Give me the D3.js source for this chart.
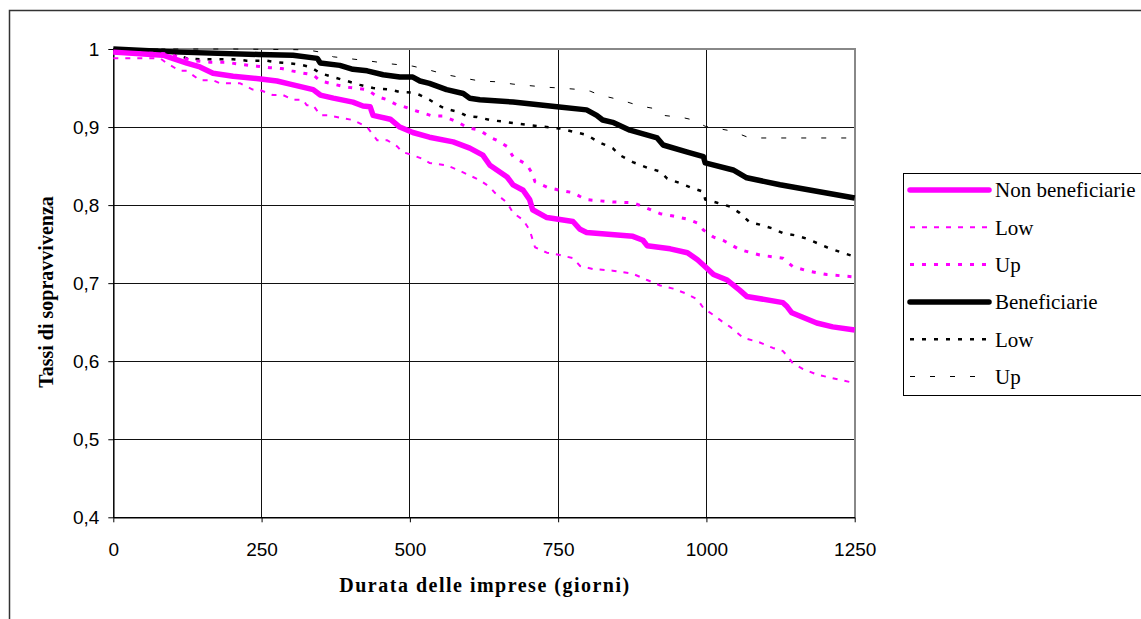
<!DOCTYPE html>
<html>
<head>
<meta charset="utf-8">
<script src="https://cdn.jsdelivr.net/npm/d3@7"></script>
<style>
  body { margin: 0; background: #fff; }
  svg { display: block; }
</style>
</head>
<body>
<svg id="chart" width="1141" height="619"></svg>
<script>
  // 刻度
  var xTicks = [0, 250, 500, 750, 1000, 1250];
  var yTicks = [0.4, 0.5, 0.6, 0.7, 0.8, 0.9, 1];

  // Non beneficiarie: [giorni, tasso]
  var nonBen = [[0,0.996],[84,0.992],[100,0.988],[124,0.982],[146,0.977],[168,0.969],[202,0.965],[245,0.962],[276,0.959],[298,0.955],[337,0.948],[349,0.941],[371,0.937],[404,0.932],[421,0.927],[433,0.926],[438,0.915],[467,0.910],[483,0.900],[505,0.893],[533,0.887],[573,0.881],[601,0.873],[623,0.864],[635,0.851],[664,0.836],[674,0.826],[691,0.819],[702,0.807],[707,0.794],[731,0.784],[775,0.779],[787,0.769],[798,0.765],[876,0.760],[893,0.755],[900,0.748],[939,0.744],[968,0.739],[985,0.730],[998,0.721],[1012,0.711],[1035,0.704],[1056,0.691],[1068,0.683],[1129,0.675],[1136,0.670],[1144,0.662],[1186,0.649],[1213,0.644],[1250,0.640]];
  var nonBenLow = [[0,0.988],[79,0.988],[90,0.982],[112,0.972],[124,0.972],[146,0.960],[168,0.960],[180,0.956],[214,0.956],[235,0.948],[245,0.948],[269,0.941],[286,0.941],[303,0.935],[320,0.935],[326,0.928],[337,0.928],[349,0.915],[361,0.915],[404,0.909],[428,0.900],[445,0.883],[462,0.883],[479,0.875],[487,0.868],[505,0.864],[522,0.859],[533,0.854],[562,0.851],[581,0.845],[598,0.839],[618,0.832],[635,0.823],[643,0.816],[664,0.803],[674,0.790],[691,0.781],[702,0.768],[711,0.746],[731,0.739],[753,0.736],[775,0.732],[787,0.722],[809,0.718],[842,0.716],[876,0.712],[900,0.704],[922,0.697],[944,0.693],[968,0.686],[985,0.679],[995,0.668],[1012,0.659],[1028,0.650],[1040,0.644],[1062,0.630],[1090,0.624],[1112,0.617],[1129,0.613],[1137,0.606],[1146,0.597],[1163,0.590],[1186,0.583],[1208,0.579],[1250,0.572]];
  var nonBenUp = [[0,0.996],[90,0.994],[110,0.990],[135,0.985],[163,0.983],[193,0.983],[207,0.981],[242,0.978],[264,0.976],[284,0.975],[301,0.972],[320,0.969],[337,0.967],[349,0.959],[371,0.955],[394,0.951],[428,0.948],[445,0.939],[462,0.935],[479,0.928],[487,0.927],[505,0.922],[522,0.918],[539,0.914],[556,0.914],[579,0.907],[598,0.899],[618,0.896],[635,0.887],[647,0.883],[664,0.875],[674,0.862],[697,0.852],[706,0.841],[711,0.830],[731,0.823],[753,0.819],[775,0.816],[787,0.811],[798,0.807],[842,0.804],[876,0.803],[900,0.796],[922,0.789],[944,0.786],[968,0.782],[985,0.777],[995,0.768],[1012,0.759],[1028,0.755],[1056,0.743],[1090,0.736],[1129,0.732],[1146,0.721],[1169,0.716],[1203,0.711],[1250,0.708]];

  // Beneficiarie
  var ben = [[0,1.000],[112,0.996],[245,0.993],[303,0.992],[344,0.988],[349,0.982],[382,0.979],[404,0.974],[428,0.972],[455,0.967],[483,0.964],[505,0.964],[517,0.959],[533,0.956],[562,0.948],[590,0.943],[601,0.937],[618,0.935],[674,0.932],[748,0.926],[798,0.922],[815,0.915],[825,0.909],[842,0.906],[871,0.896],[917,0.886],[927,0.877],[968,0.868],[995,0.862],[998,0.854],[1045,0.845],[1068,0.835],[1124,0.826],[1250,0.809]];
  var benLow = [[0,0.999],[90,0.999],[100,0.995],[124,0.988],[146,0.987],[202,0.987],[225,0.985],[259,0.985],[276,0.983],[293,0.982],[315,0.980],[332,0.977],[349,0.969],[371,0.964],[394,0.959],[416,0.954],[438,0.950],[467,0.948],[483,0.945],[505,0.944],[517,0.941],[533,0.935],[550,0.927],[562,0.923],[584,0.919],[596,0.914],[613,0.913],[635,0.909],[657,0.907],[686,0.904],[719,0.901],[753,0.898],[787,0.892],[798,0.890],[820,0.880],[842,0.873],[854,0.864],[876,0.855],[900,0.848],[922,0.843],[934,0.834],[956,0.828],[972,0.823],[995,0.817],[998,0.807],[1018,0.803],[1040,0.798],[1056,0.790],[1073,0.778],[1090,0.775],[1112,0.770],[1129,0.764],[1152,0.761],[1169,0.757],[1203,0.746],[1225,0.740],[1250,0.734]];
  var benUp = [[0,1.000],[202,1.000],[326,0.999],[349,0.996],[371,0.990],[428,0.985],[467,0.981],[505,0.978],[533,0.973],[562,0.967],[596,0.962],[618,0.959],[647,0.958],[674,0.955],[731,0.951],[753,0.950],[787,0.948],[804,0.946],[820,0.941],[854,0.935],[888,0.927],[910,0.924],[927,0.915],[961,0.912],[978,0.909],[998,0.901],[1035,0.896],[1056,0.891],[1073,0.886],[1250,0.886]];

  var legendLabels = ["Non beneficiarie", "Low", "Up", "Beneficiarie", "Low", "Up"];

  // 线条样式（与图例顺序一致）
  var series = [
    { data: nonBen,    color: "#ff00ff", width: 5.5, dash: null },
    { data: nonBenLow, color: "#ff00ff", width: 2,   dash: "5,7" },
    { data: nonBenUp,  color: "#ff00ff", width: 3,   dash: "4,8" },
    { data: ben,       color: "#000",    width: 5.5, dash: null },
    { data: benLow,    color: "#000",    width: 2.5, dash: "4,8" },
    { data: benUp,     color: "#000",    width: 1,   dash: "5,15" }
  ];

  var svg = d3.select("#chart");

  var x = d3.scaleLinear().domain([0, 1250]).range([113.3, 854.7]);
  var y = d3.scaleLinear().domain([0.4, 1]).range([517.3, 49]);

  // 外框（只有上边和左边可见）
  svg.append("path")
    .attr("d", "M9.5,619 V10.5 H1141")
    .attr("fill", "none")
    .attr("stroke", "#333")
    .attr("stroke-width", 1.5);

  // 网格
  var grid = svg.append("g").attr("shape-rendering", "crispEdges");
  grid.selectAll("line.h")
    .data(yTicks.filter(function (d) { return d < 1; }))
    .enter().append("line")
    .attr("x1", x(0)).attr("x2", x(1250))
    .attr("y1", function (d) { return y(d); })
    .attr("y2", function (d) { return y(d); })
    .attr("stroke", "#111");
  grid.selectAll("line.v")
    .data(xTicks.filter(function (d) { return d > 0 && d < 1250; }))
    .enter().append("line")
    .attr("y1", y(0.4)).attr("y2", y(1))
    .attr("x1", function (d) { return x(d); })
    .attr("x2", function (d) { return x(d); })
    .attr("stroke", "#111");

  // 绘图区上边、右边为灰色
  grid.append("path")
    .attr("d", "M" + x(0) + "," + y(1) + " H" + x(1250) + " V" + y(0.4))
    .attr("fill", "none")
    .attr("stroke", "#888")
    .attr("stroke-width", 2);

  // 坐标轴
  var itLocale = d3.formatLocale({ decimal: ",", thousands: ".", grouping: [3], currency: ["", "€"] });
  var fmtY = itLocale.format(".1~f");

  var yAxis = svg.append("g")
    .attr("transform", "translate(" + x(0) + ",0)")
    .call(d3.axisLeft(y).tickValues(yTicks).tickSize(5).tickSizeOuter(0).tickPadding(9).tickFormat(fmtY));
  var xAxis = svg.append("g")
    .attr("transform", "translate(0," + y(0.4) + ")")
    .call(d3.axisBottom(x).tickValues(xTicks).tickSize(5).tickSizeOuter(0).tickPadding(20).tickFormat(function (d) { return d; }));

  [yAxis, xAxis].forEach(function (a) {
    a.select(".domain").attr("stroke", "#000").attr("stroke-width", 1.5);
    a.selectAll(".tick line").attr("stroke", "#000");
    a.selectAll("text")
      .attr("fill", "#000")
      .attr("font-family", "'Liberation Sans', Arial, sans-serif")
      .attr("font-size", 19);
  });

  // 曲线
  var line = d3.line()
    .x(function (d) { return x(d[0]); })
    .y(function (d) { return y(d[1]); });

  svg.append("g").selectAll("path.serie")
    .data(series.slice().reverse())
    .enter().append("path")
    .attr("class", "serie")
    .attr("d", function (s) { return line(s.data); })
    .attr("fill", "none")
    .attr("stroke", function (s) { return s.color; })
    .attr("stroke-width", function (s) { return s.width; })
    .attr("stroke-dasharray", function (s) { return s.dash; })
    .attr("stroke-linejoin", "round");

  // 轴标题
  svg.append("text")
    .attr("x", 485).attr("y", 592)
    .attr("text-anchor", "middle")
    .attr("font-family", "'Liberation Serif', 'Times New Roman', serif")
    .attr("font-weight", "bold")
    .attr("font-size", 20)
    .attr("letter-spacing", 1.5)
    .text("Durata delle imprese (giorni)");

  svg.append("text")
    .attr("transform", "translate(53,292) rotate(-90)")
    .attr("text-anchor", "middle")
    .attr("font-family", "'Liberation Serif', 'Times New Roman', serif")
    .attr("font-weight", "bold")
    .attr("font-size", 20)
    .text("Tassi di sopravvivenza");

  // 图例
  var legend = svg.append("g");
  legend.append("rect")
    .attr("x", 903.5).attr("y", 173.5)
    .attr("width", 260).attr("height", 222)
    .attr("fill", "#fff")
    .attr("stroke", "#000");

  var item = legend.selectAll("g.item")
    .data(series)
    .enter().append("g")
    .attr("class", "item")
    .attr("transform", function (d, i) { return "translate(0," + (190 + i * 37.3) + ")"; });

  item.append("line")
    .attr("x1", 910).attr("x2", 989)
    .attr("stroke", function (s) { return s.color; })
    .attr("stroke-width", function (s) { return s.width; })
    .attr("stroke-dasharray", function (s) { return s.dash; })
    .attr("stroke-linecap", function (s) { return s.dash ? "butt" : "round"; });

  item.append("text")
    .attr("x", 995)
    .attr("dy", "0.35em")
    .attr("font-family", "'Liberation Serif', 'Times New Roman', serif")
    .attr("font-size", 21)
    .text(function (d, i) { return legendLabels[i]; });
</script>
</body>
</html>
